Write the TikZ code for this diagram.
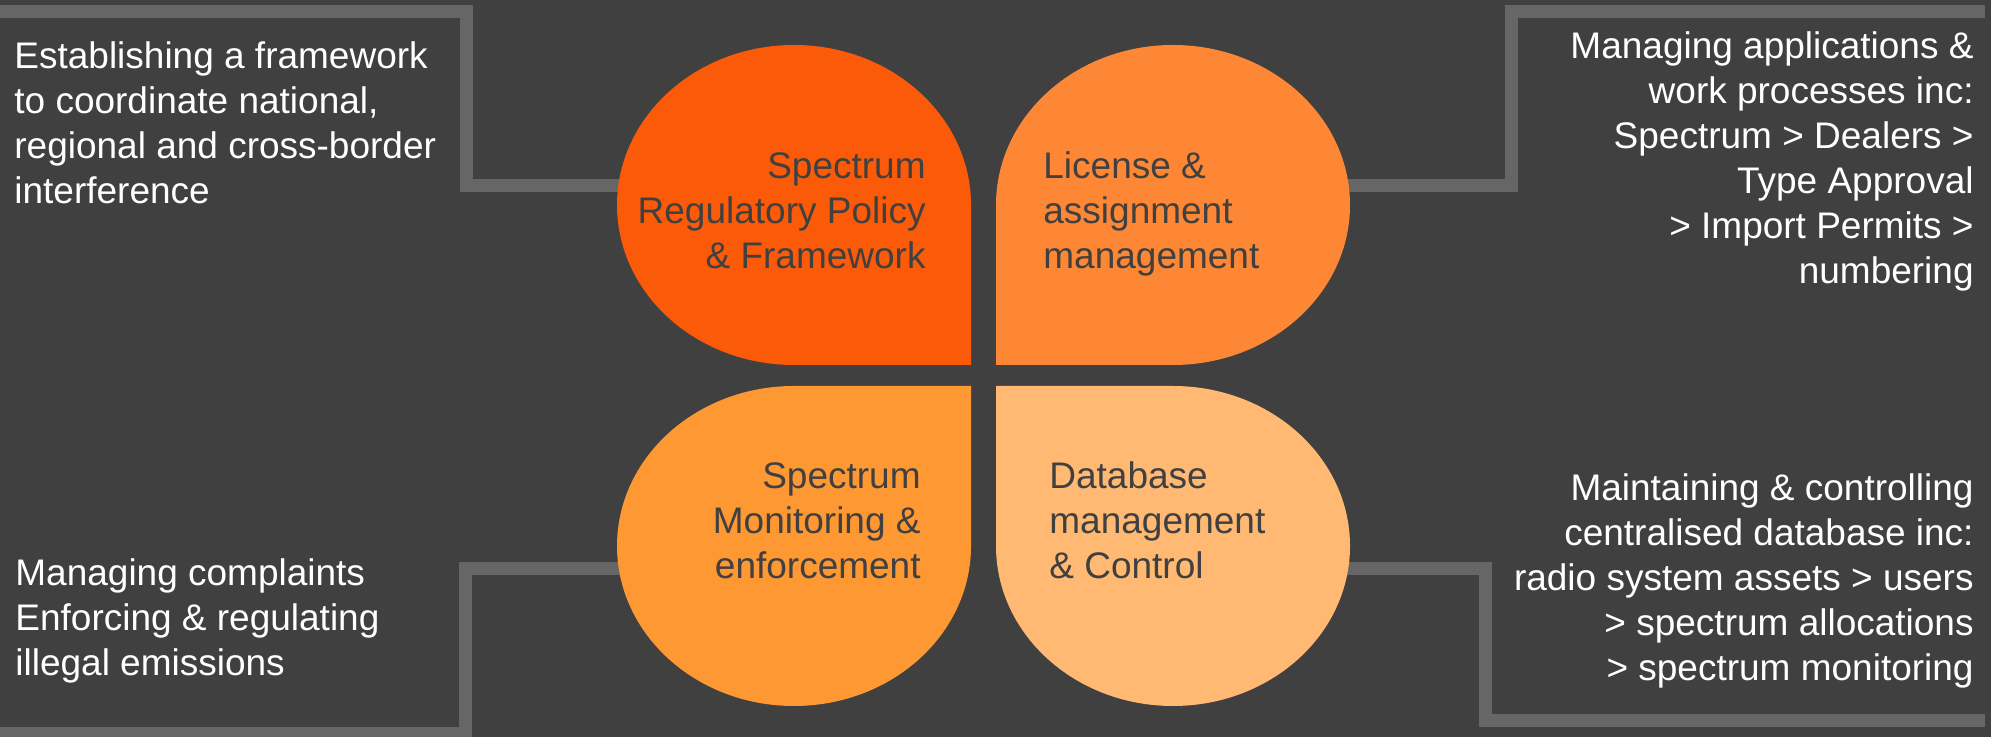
\documentclass[tikz,border=0pt]{standalone}
\usepackage{fontspec}
\setmainfont{Liberation Sans}
\definecolor{bggrey}{HTML}{404040}
\definecolor{linegrey}{HTML}{666666}
\definecolor{petalA}{HTML}{FB5A09}
\definecolor{petalB}{HTML}{FD8734}
\definecolor{petalC}{HTML}{FE9833}
\definecolor{petalD}{HTML}{FFB973}
\definecolor{petalink}{HTML}{404040}
\newcommand\txtfont{\fontsize{18.5pt}{22.5pt}\selectfont}
\newcommand\toprule{\rule{0pt}{15pt}}
\begin{document}
\begin{tikzpicture}[x=0.5pt,y=0.5pt,
  conn/.style={draw=linegrey, line width=6.5pt, line join=miter},
  outer/.style={text=white, font=\txtfont, inner sep=0pt},
  petaltext/.style={text=petalink, font=\txtfont, inner sep=0pt}]
\useasboundingbox (0,0) rectangle (1991,737);
\fill[bggrey] (0,0) rectangle (1991,737);

% connector coordinates
\coordinate (tlA) at (0,725.5);
\coordinate (tlB) at (466,725.5);
\coordinate (tlC) at (466,551.5);
\coordinate (tlP) at (700,551.5);
\coordinate (trA) at (1985,725.5);
\coordinate (trB) at (1511.5,725.5);
\coordinate (trC) at (1511.5,551.5);
\coordinate (trP) at (1250,551.5);
\coordinate (blA) at (0,3);
\coordinate (blB) at (465.5,3);
\coordinate (blC) at (465.5,168.5);
\coordinate (blP) at (700,168.5);
\coordinate (brA) at (1985,16.5);
\coordinate (brB) at (1485.5,16.5);
\coordinate (brC) at (1485.5,168.5);
\coordinate (brP) at (1250,168.5);

\draw[conn] (tlA) -- (tlB) -- (tlC) -- (tlP);
\draw[conn] (trA) -- (trB) -- (trC) -- (trP);
\draw[conn] (blA) -- (blB) -- (blC) -- (blP);
\draw[conn] (brA) -- (brB) -- (brC) -- (brP);

% petals
\fill[petalA] (971,372) -- (794,372) arc[start angle=270, end angle=0, x radius=177, y radius=160] -- cycle;
\fill[petalB] (996,372) -- (996,532) arc[start angle=180, end angle=-90, x radius=177, y radius=160] -- cycle;
\fill[petalC] (971,351) -- (971,191) arc[start angle=0, end angle=-270, x radius=177, y radius=160] -- cycle;
\fill[petalD] (996,351) -- (1173,351) arc[start angle=90, end angle=-180, x radius=177, y radius=160] -- cycle;

% petal texts
\node[petaltext, anchor=north east, align=right] (ptl) at (926,589)
  {\toprule Spectrum\\Regulatory Policy\\\& Framework};
\node[petaltext, anchor=north west, align=left] (ptr) at (1043,589)
  {\toprule License \&\\assignment\\management};
\node[petaltext, anchor=north east, align=right] (pbl) at (921,279)
  {\toprule Spectrum\\Monitoring \&\\enforcement};
\node[petaltext, anchor=north west, align=left] (pbr) at (1049,279)
  {\toprule Database\\management\\\& Control};

% outer texts
\node[outer, anchor=north west, align=left] (otl) at (14,699)
  {\toprule Establishing a framework\\to coordinate national,\\regional and cross-border\\interference};
\node[outer, anchor=north east, align=right] (otr) at (1974,709)
  {\toprule Managing applications \&\\work processes inc:\\Spectrum > Dealers >\\Type Approval\\> Import Permits >\\numbering};
\node[outer, anchor=north west, align=left] (obl) at (15,182)
  {\toprule Managing complaints\\Enforcing \& regulating\\illegal emissions};
\node[outer, anchor=north east, align=right] (obr) at (1974,267)
  {\toprule Maintaining \& controlling\\centralised database inc:\\radio system assets > users\\> spectrum allocations\\> spectrum monitoring};
\end{tikzpicture}
\end{document}
